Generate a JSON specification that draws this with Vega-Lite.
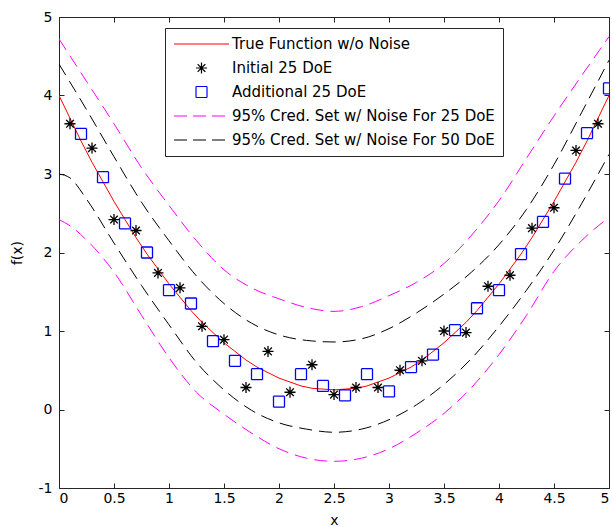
{
  "$schema": "https://vega.github.io/schema/vega-lite/v6.json",
  "width": 550,
  "height": 471,
  "autosize": {"type": "none"},
  "padding": {"left": 59, "top": 17, "right": 3, "bottom": 39},
  "background": "white",
  "config": {
    "view": {"stroke": "#262626", "strokeWidth": 1},
    "axis": {
      "grid": false,
      "domain": false,
      "tickColor": "#262626",
      "tickSize": -5,
      "tickWidth": 1,
      "labelFont": "DejaVu Sans",
      "labelFontSize": 14,
      "labelColor": "#000000",
      "titleFont": "DejaVu Sans",
      "titleFontSize": 14,
      "titleFontWeight": "normal",
      "titleColor": "#000000"
    }
  },
  "datasets": {
    "truefn": [
      {"x": 0.0, "y": 4.00}, {"x": 0.1, "y": 3.71}, {"x": 0.2, "y": 3.42}, {"x": 0.3, "y": 3.15}, {"x": 0.4, "y": 2.90},
      {"x": 0.5, "y": 2.65}, {"x": 0.6, "y": 2.42}, {"x": 0.7, "y": 2.19}, {"x": 0.8, "y": 1.98}, {"x": 0.9, "y": 1.79},
      {"x": 1.0, "y": 1.60}, {"x": 1.1, "y": 1.43}, {"x": 1.2, "y": 1.26}, {"x": 1.3, "y": 1.11}, {"x": 1.4, "y": 0.98},
      {"x": 1.5, "y": 0.85}, {"x": 1.6, "y": 0.74}, {"x": 1.7, "y": 0.63}, {"x": 1.8, "y": 0.54}, {"x": 1.9, "y": 0.47},
      {"x": 2.0, "y": 0.40}, {"x": 2.1, "y": 0.35}, {"x": 2.2, "y": 0.30}, {"x": 2.3, "y": 0.27}, {"x": 2.4, "y": 0.26},
      {"x": 2.5, "y": 0.25}, {"x": 2.6, "y": 0.26}, {"x": 2.7, "y": 0.27}, {"x": 2.8, "y": 0.30}, {"x": 2.9, "y": 0.35},
      {"x": 3.0, "y": 0.40}, {"x": 3.1, "y": 0.47}, {"x": 3.2, "y": 0.54}, {"x": 3.3, "y": 0.63}, {"x": 3.4, "y": 0.74},
      {"x": 3.5, "y": 0.85}, {"x": 3.6, "y": 0.98}, {"x": 3.7, "y": 1.11}, {"x": 3.8, "y": 1.26}, {"x": 3.9, "y": 1.43},
      {"x": 4.0, "y": 1.60}, {"x": 4.1, "y": 1.79}, {"x": 4.2, "y": 1.98}, {"x": 4.3, "y": 2.19}, {"x": 4.4, "y": 2.42},
      {"x": 4.5, "y": 2.65}, {"x": 4.6, "y": 2.90}, {"x": 4.7, "y": 3.15}, {"x": 4.8, "y": 3.42}, {"x": 4.9, "y": 3.71},
      {"x": 5.0, "y": 4.00}
    ],
    "bands": [
      {"x": 0.0, "y": 4.72, "s": "95% Cred. Set w/ Noise For 25 DoE", "side": "u"},
      {"x": 0.25, "y": 4.18, "s": "95% Cred. Set w/ Noise For 25 DoE", "side": "u"},
      {"x": 0.5, "y": 3.64, "s": "95% Cred. Set w/ Noise For 25 DoE", "side": "u"},
      {"x": 0.75, "y": 3.08, "s": "95% Cred. Set w/ Noise For 25 DoE", "side": "u"},
      {"x": 1.0, "y": 2.60, "s": "95% Cred. Set w/ Noise For 25 DoE", "side": "u"},
      {"x": 1.25, "y": 2.15, "s": "95% Cred. Set w/ Noise For 25 DoE", "side": "u"},
      {"x": 1.5, "y": 1.78, "s": "95% Cred. Set w/ Noise For 25 DoE", "side": "u"},
      {"x": 1.75, "y": 1.55, "s": "95% Cred. Set w/ Noise For 25 DoE", "side": "u"},
      {"x": 2.0, "y": 1.41, "s": "95% Cred. Set w/ Noise For 25 DoE", "side": "u"},
      {"x": 2.25, "y": 1.30, "s": "95% Cred. Set w/ Noise For 25 DoE", "side": "u"},
      {"x": 2.5, "y": 1.25, "s": "95% Cred. Set w/ Noise For 25 DoE", "side": "u"},
      {"x": 2.75, "y": 1.31, "s": "95% Cred. Set w/ Noise For 25 DoE", "side": "u"},
      {"x": 3.0, "y": 1.45, "s": "95% Cred. Set w/ Noise For 25 DoE", "side": "u"},
      {"x": 3.25, "y": 1.62, "s": "95% Cred. Set w/ Noise For 25 DoE", "side": "u"},
      {"x": 3.5, "y": 1.86, "s": "95% Cred. Set w/ Noise For 25 DoE", "side": "u"},
      {"x": 3.75, "y": 2.22, "s": "95% Cred. Set w/ Noise For 25 DoE", "side": "u"},
      {"x": 4.0, "y": 2.66, "s": "95% Cred. Set w/ Noise For 25 DoE", "side": "u"},
      {"x": 4.25, "y": 3.20, "s": "95% Cred. Set w/ Noise For 25 DoE", "side": "u"},
      {"x": 4.5, "y": 3.74, "s": "95% Cred. Set w/ Noise For 25 DoE", "side": "u"},
      {"x": 4.75, "y": 4.25, "s": "95% Cred. Set w/ Noise For 25 DoE", "side": "u"},
      {"x": 5.0, "y": 4.75, "s": "95% Cred. Set w/ Noise For 25 DoE", "side": "u"},
      {"x": 0.0, "y": 2.42, "s": "95% Cred. Set w/ Noise For 25 DoE", "side": "l"},
      {"x": 0.1, "y": 2.34, "s": "95% Cred. Set w/ Noise For 25 DoE", "side": "l"},
      {"x": 0.25, "y": 2.16, "s": "95% Cred. Set w/ Noise For 25 DoE", "side": "l"},
      {"x": 0.5, "y": 1.75, "s": "95% Cred. Set w/ Noise For 25 DoE", "side": "l"},
      {"x": 0.75, "y": 1.20, "s": "95% Cred. Set w/ Noise For 25 DoE", "side": "l"},
      {"x": 1.0, "y": 0.66, "s": "95% Cred. Set w/ Noise For 25 DoE", "side": "l"},
      {"x": 1.25, "y": 0.22, "s": "95% Cred. Set w/ Noise For 25 DoE", "side": "l"},
      {"x": 1.5, "y": -0.06, "s": "95% Cred. Set w/ Noise For 25 DoE", "side": "l"},
      {"x": 1.75, "y": -0.30, "s": "95% Cred. Set w/ Noise For 25 DoE", "side": "l"},
      {"x": 2.0, "y": -0.50, "s": "95% Cred. Set w/ Noise For 25 DoE", "side": "l"},
      {"x": 2.25, "y": -0.62, "s": "95% Cred. Set w/ Noise For 25 DoE", "side": "l"},
      {"x": 2.5, "y": -0.66, "s": "95% Cred. Set w/ Noise For 25 DoE", "side": "l"},
      {"x": 2.75, "y": -0.62, "s": "95% Cred. Set w/ Noise For 25 DoE", "side": "l"},
      {"x": 3.0, "y": -0.50, "s": "95% Cred. Set w/ Noise For 25 DoE", "side": "l"},
      {"x": 3.25, "y": -0.30, "s": "95% Cred. Set w/ Noise For 25 DoE", "side": "l"},
      {"x": 3.5, "y": -0.05, "s": "95% Cred. Set w/ Noise For 25 DoE", "side": "l"},
      {"x": 3.75, "y": 0.28, "s": "95% Cred. Set w/ Noise For 25 DoE", "side": "l"},
      {"x": 4.0, "y": 0.70, "s": "95% Cred. Set w/ Noise For 25 DoE", "side": "l"},
      {"x": 4.25, "y": 1.20, "s": "95% Cred. Set w/ Noise For 25 DoE", "side": "l"},
      {"x": 4.5, "y": 1.76, "s": "95% Cred. Set w/ Noise For 25 DoE", "side": "l"},
      {"x": 4.75, "y": 2.15, "s": "95% Cred. Set w/ Noise For 25 DoE", "side": "l"},
      {"x": 5.0, "y": 2.45, "s": "95% Cred. Set w/ Noise For 25 DoE", "side": "l"},
      {"x": 0.0, "y": 4.40, "s": "95% Cred. Set w/ Noise For 50 DoE", "side": "u"},
      {"x": 0.25, "y": 3.82, "s": "95% Cred. Set w/ Noise For 50 DoE", "side": "u"},
      {"x": 0.5, "y": 3.22, "s": "95% Cred. Set w/ Noise For 50 DoE", "side": "u"},
      {"x": 0.75, "y": 2.64, "s": "95% Cred. Set w/ Noise For 50 DoE", "side": "u"},
      {"x": 1.0, "y": 2.15, "s": "95% Cred. Set w/ Noise For 50 DoE", "side": "u"},
      {"x": 1.25, "y": 1.70, "s": "95% Cred. Set w/ Noise For 50 DoE", "side": "u"},
      {"x": 1.5, "y": 1.35, "s": "95% Cred. Set w/ Noise For 50 DoE", "side": "u"},
      {"x": 1.75, "y": 1.10, "s": "95% Cred. Set w/ Noise For 50 DoE", "side": "u"},
      {"x": 2.0, "y": 0.95, "s": "95% Cred. Set w/ Noise For 50 DoE", "side": "u"},
      {"x": 2.25, "y": 0.88, "s": "95% Cred. Set w/ Noise For 50 DoE", "side": "u"},
      {"x": 2.5, "y": 0.86, "s": "95% Cred. Set w/ Noise For 50 DoE", "side": "u"},
      {"x": 2.75, "y": 0.90, "s": "95% Cred. Set w/ Noise For 50 DoE", "side": "u"},
      {"x": 3.0, "y": 1.03, "s": "95% Cred. Set w/ Noise For 50 DoE", "side": "u"},
      {"x": 3.25, "y": 1.23, "s": "95% Cred. Set w/ Noise For 50 DoE", "side": "u"},
      {"x": 3.5, "y": 1.47, "s": "95% Cred. Set w/ Noise For 50 DoE", "side": "u"},
      {"x": 3.75, "y": 1.75, "s": "95% Cred. Set w/ Noise For 50 DoE", "side": "u"},
      {"x": 4.0, "y": 2.10, "s": "95% Cred. Set w/ Noise For 50 DoE", "side": "u"},
      {"x": 4.25, "y": 2.55, "s": "95% Cred. Set w/ Noise For 50 DoE", "side": "u"},
      {"x": 4.5, "y": 3.12, "s": "95% Cred. Set w/ Noise For 50 DoE", "side": "u"},
      {"x": 4.75, "y": 3.78, "s": "95% Cred. Set w/ Noise For 50 DoE", "side": "u"},
      {"x": 5.0, "y": 4.45, "s": "95% Cred. Set w/ Noise For 50 DoE", "side": "u"},
      {"x": 0.0, "y": 3.00, "s": "95% Cred. Set w/ Noise For 50 DoE", "side": "l"},
      {"x": 0.1, "y": 2.95, "s": "95% Cred. Set w/ Noise For 50 DoE", "side": "l"},
      {"x": 0.25, "y": 2.68, "s": "95% Cred. Set w/ Noise For 50 DoE", "side": "l"},
      {"x": 0.5, "y": 2.12, "s": "95% Cred. Set w/ Noise For 50 DoE", "side": "l"},
      {"x": 0.75, "y": 1.58, "s": "95% Cred. Set w/ Noise For 50 DoE", "side": "l"},
      {"x": 1.0, "y": 1.08, "s": "95% Cred. Set w/ Noise For 50 DoE", "side": "l"},
      {"x": 1.25, "y": 0.60, "s": "95% Cred. Set w/ Noise For 50 DoE", "side": "l"},
      {"x": 1.5, "y": 0.25, "s": "95% Cred. Set w/ Noise For 50 DoE", "side": "l"},
      {"x": 1.75, "y": -0.01, "s": "95% Cred. Set w/ Noise For 50 DoE", "side": "l"},
      {"x": 2.0, "y": -0.17, "s": "95% Cred. Set w/ Noise For 50 DoE", "side": "l"},
      {"x": 2.25, "y": -0.25, "s": "95% Cred. Set w/ Noise For 50 DoE", "side": "l"},
      {"x": 2.5, "y": -0.29, "s": "95% Cred. Set w/ Noise For 50 DoE", "side": "l"},
      {"x": 2.75, "y": -0.25, "s": "95% Cred. Set w/ Noise For 50 DoE", "side": "l"},
      {"x": 3.0, "y": -0.13, "s": "95% Cred. Set w/ Noise For 50 DoE", "side": "l"},
      {"x": 3.25, "y": 0.06, "s": "95% Cred. Set w/ Noise For 50 DoE", "side": "l"},
      {"x": 3.5, "y": 0.32, "s": "95% Cred. Set w/ Noise For 50 DoE", "side": "l"},
      {"x": 3.75, "y": 0.65, "s": "95% Cred. Set w/ Noise For 50 DoE", "side": "l"},
      {"x": 4.0, "y": 1.06, "s": "95% Cred. Set w/ Noise For 50 DoE", "side": "l"},
      {"x": 4.25, "y": 1.52, "s": "95% Cred. Set w/ Noise For 50 DoE", "side": "l"},
      {"x": 4.5, "y": 2.03, "s": "95% Cred. Set w/ Noise For 50 DoE", "side": "l"},
      {"x": 4.75, "y": 2.62, "s": "95% Cred. Set w/ Noise For 50 DoE", "side": "l"},
      {"x": 5.0, "y": 3.25, "s": "95% Cred. Set w/ Noise For 50 DoE", "side": "l"}
    ],
    "pts": [
      {"x": 0.1, "y": 3.64, "s": "Initial 25 DoE"}, {"x": 0.3, "y": 3.33, "s": "Initial 25 DoE"},
      {"x": 0.5, "y": 2.42, "s": "Initial 25 DoE"}, {"x": 0.7, "y": 2.28, "s": "Initial 25 DoE"},
      {"x": 0.9, "y": 1.74, "s": "Initial 25 DoE"}, {"x": 1.1, "y": 1.55, "s": "Initial 25 DoE"},
      {"x": 1.3, "y": 1.06, "s": "Initial 25 DoE"}, {"x": 1.5, "y": 0.89, "s": "Initial 25 DoE"},
      {"x": 1.7, "y": 0.28, "s": "Initial 25 DoE"}, {"x": 1.9, "y": 0.74, "s": "Initial 25 DoE"},
      {"x": 2.1, "y": 0.22, "s": "Initial 25 DoE"}, {"x": 2.3, "y": 0.57, "s": "Initial 25 DoE"},
      {"x": 2.5, "y": 0.19, "s": "Initial 25 DoE"}, {"x": 2.7, "y": 0.28, "s": "Initial 25 DoE"},
      {"x": 2.9, "y": 0.28, "s": "Initial 25 DoE"}, {"x": 3.1, "y": 0.50, "s": "Initial 25 DoE"},
      {"x": 3.3, "y": 0.62, "s": "Initial 25 DoE"}, {"x": 3.5, "y": 1.00, "s": "Initial 25 DoE"},
      {"x": 3.7, "y": 0.98, "s": "Initial 25 DoE"}, {"x": 3.9, "y": 1.57, "s": "Initial 25 DoE"},
      {"x": 4.1, "y": 1.71, "s": "Initial 25 DoE"}, {"x": 4.3, "y": 2.31, "s": "Initial 25 DoE"},
      {"x": 4.5, "y": 2.57, "s": "Initial 25 DoE"}, {"x": 4.7, "y": 3.30, "s": "Initial 25 DoE"},
      {"x": 4.9, "y": 3.64, "s": "Initial 25 DoE"},
      {"x": 0.2, "y": 3.51, "s": "Additional 25 DoE"}, {"x": 0.4, "y": 2.96, "s": "Additional 25 DoE"},
      {"x": 0.6, "y": 2.37, "s": "Additional 25 DoE"}, {"x": 0.8, "y": 2.00, "s": "Additional 25 DoE"},
      {"x": 1.0, "y": 1.52, "s": "Additional 25 DoE"}, {"x": 1.2, "y": 1.35, "s": "Additional 25 DoE"},
      {"x": 1.4, "y": 0.87, "s": "Additional 25 DoE"}, {"x": 1.6, "y": 0.62, "s": "Additional 25 DoE"},
      {"x": 1.8, "y": 0.45, "s": "Additional 25 DoE"}, {"x": 2.0, "y": 0.10, "s": "Additional 25 DoE"},
      {"x": 2.2, "y": 0.45, "s": "Additional 25 DoE"}, {"x": 2.4, "y": 0.30, "s": "Additional 25 DoE"},
      {"x": 2.6, "y": 0.18, "s": "Additional 25 DoE"}, {"x": 2.8, "y": 0.45, "s": "Additional 25 DoE"},
      {"x": 3.0, "y": 0.23, "s": "Additional 25 DoE"}, {"x": 3.2, "y": 0.54, "s": "Additional 25 DoE"},
      {"x": 3.4, "y": 0.70, "s": "Additional 25 DoE"}, {"x": 3.6, "y": 1.01, "s": "Additional 25 DoE"},
      {"x": 3.8, "y": 1.29, "s": "Additional 25 DoE"}, {"x": 4.0, "y": 1.52, "s": "Additional 25 DoE"},
      {"x": 4.2, "y": 1.98, "s": "Additional 25 DoE"}, {"x": 4.4, "y": 2.39, "s": "Additional 25 DoE"},
      {"x": 4.6, "y": 2.94, "s": "Additional 25 DoE"}, {"x": 4.8, "y": 3.52, "s": "Additional 25 DoE"},
      {"x": 5.0, "y": 4.09, "s": "Additional 25 DoE"}
    ]
  },
  "layer": [
    {
      "data": {"name": "bands"},
      "mark": {"type": "line", "strokeDash": [13, 7], "strokeWidth": 1, "interpolate": "monotone", "clip": true},
      "encoding": {
        "x": {"field": "x", "type": "quantitative", "scale": {"domain": [0, 5], "nice": false, "zero": false}, "axis": null},
        "y": {"field": "y", "type": "quantitative", "scale": {"domain": [-1, 5], "nice": false, "zero": false}, "axis": null},
        "stroke": {"field": "s", "type": "nominal", "scale": {"domain": ["95% Cred. Set w/ Noise For 25 DoE", "95% Cred. Set w/ Noise For 50 DoE"], "range": ["#ff00ff", "#000000"]}, "legend": null},
        "detail": {"field": "side", "type": "nominal"}
      }
    },
    {
      "data": {"name": "truefn"},
      "mark": {"type": "line", "color": "#ff0000", "strokeWidth": 1, "clip": true},
      "encoding": {
        "x": {"field": "x", "type": "quantitative", "scale": {"domain": [0, 5], "nice": false, "zero": false},
              "axis": {"orient": "bottom", "values": [0, 0.5, 1, 1.5, 2, 2.5, 3, 3.5, 4, 4.5, 5], "labelExpr": "'' + datum.value", "labelPadding": 8, "title": "x", "titlePadding": 8}},
        "y": {"field": "y", "type": "quantitative", "scale": {"domain": [-1, 5], "nice": false, "zero": false},
              "axis": {"orient": "left", "values": [-1, 0, 1, 2, 3, 4, 5], "labelExpr": "'' + datum.value", "labelPadding": 12, "title": "f(x)", "titlePadding": 14}}
      }
    },
    {
      "data": {"name": "pts"},
      "mark": {"type": "point", "filled": false, "strokeWidth": 1.3, "opacity": 1, "clip": true},
      "encoding": {
        "x": {"field": "x", "type": "quantitative", "scale": {"domain": [0, 5], "nice": false, "zero": false},
              "axis": {"orient": "top", "values": [0, 0.5, 1, 1.5, 2, 2.5, 3, 3.5, 4, 4.5, 5], "labels": false, "title": null}},
        "y": {"field": "y", "type": "quantitative", "scale": {"domain": [-1, 5], "nice": false, "zero": false},
              "axis": {"orient": "right", "values": [-1, 0, 1, 2, 3, 4, 5], "labels": false, "title": null}},
        "color": {"field": "s", "type": "nominal",
          "scale": {"domain": ["True Function w/o Noise", "Initial 25 DoE", "Additional 25 DoE", "95% Cred. Set w/ Noise For 25 DoE", "95% Cred. Set w/ Noise For 50 DoE"],
                    "range": ["#ff0000", "#000000", "#0000ff", "#ff00ff", "#000000"]},
          "legend": {"title": null, "orient": "none", "legendX": 106, "legendY": 11, "labelFont": "DejaVu Sans", "labelFontSize": 15, "labelColor": "#000000", "strokeColor": "#262626", "fillColor": "#ffffff", "padding": 8, "rowPadding": 8, "labelOffset": 2, "symbolStrokeWidth": 1.2, "clipHeight": 16, "labelLimit": 400}},
        "shape": {"field": "s", "type": "nominal",
          "scale": {"domain": ["True Function w/o Noise", "Initial 25 DoE", "Additional 25 DoE", "95% Cred. Set w/ Noise For 25 DoE", "95% Cred. Set w/ Noise For 50 DoE"],
                    "range": ["stroke", "M-1,0H1M0,-1V1M-0.7,-0.7L0.7,0.7M-0.7,0.7L0.7,-0.7", "square", "stroke", "stroke"]},
          "legend": {"title": null, "orient": "none", "legendX": 106, "legendY": 11, "labelFont": "DejaVu Sans", "labelFontSize": 15, "labelColor": "#000000", "strokeColor": "#262626", "fillColor": "#ffffff", "padding": 8, "rowPadding": 8, "labelOffset": 2, "symbolStrokeWidth": 1.2, "clipHeight": 16, "labelLimit": 400}},
        "size": {"field": "s", "type": "nominal",
          "scale": {"type": "ordinal", "domain": ["True Function w/o Noise", "Initial 25 DoE", "Additional 25 DoE", "95% Cred. Set w/ Noise For 25 DoE", "95% Cred. Set w/ Noise For 50 DoE"],
                    "range": [3025, 121, 121, 3025, 3025]},
          "legend": {"title": null, "orient": "none", "legendX": 106, "legendY": 11, "labelFont": "DejaVu Sans", "labelFontSize": 15, "labelColor": "#000000", "strokeColor": "#262626", "fillColor": "#ffffff", "padding": 8, "rowPadding": 8, "labelOffset": 2, "symbolStrokeWidth": 1.2, "clipHeight": 16, "labelLimit": 400}},
        "strokeDash": {"field": "s", "type": "nominal",
          "scale": {"domain": ["True Function w/o Noise", "Initial 25 DoE", "Additional 25 DoE", "95% Cred. Set w/ Noise For 25 DoE", "95% Cred. Set w/ Noise For 50 DoE"],
                    "range": [[1, 0], [1, 0], [1, 0], [13, 6], [13, 6]]},
          "legend": {"title": null, "orient": "none", "legendX": 106, "legendY": 11, "labelFont": "DejaVu Sans", "labelFontSize": 15, "labelColor": "#000000", "strokeColor": "#262626", "fillColor": "#ffffff", "padding": 8, "rowPadding": 8, "labelOffset": 2, "symbolStrokeWidth": 1.2, "clipHeight": 16, "labelLimit": 400}}
      }
    }
  ],
  "resolve": {"axis": {"x": "independent", "y": "independent"}}
}
